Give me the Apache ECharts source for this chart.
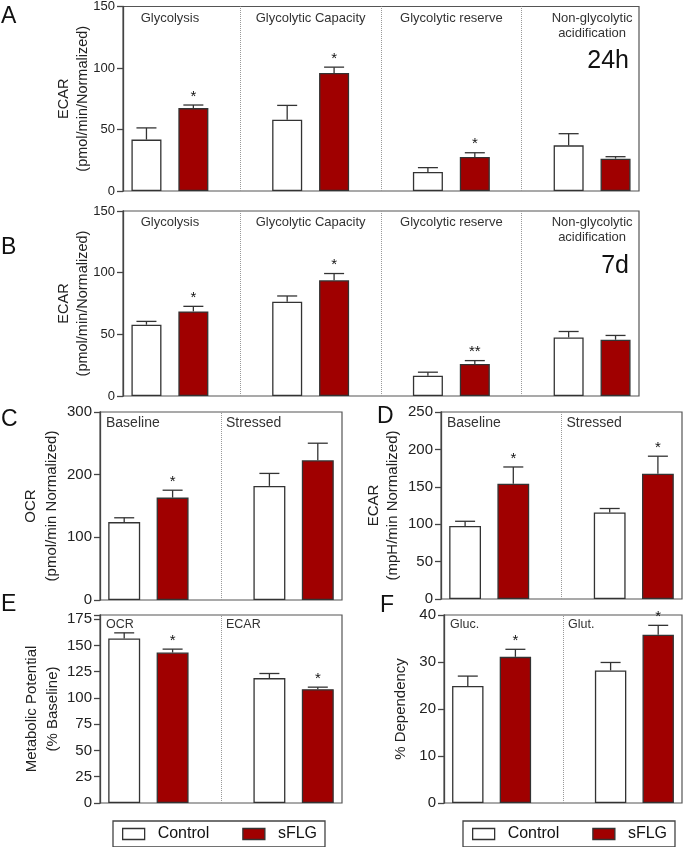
<!DOCTYPE html>
<html>
<head>
<meta charset="utf-8">
<script src="https://cdn.jsdelivr.net/npm/echarts@6/dist/echarts.min.js"></script>
<style>
html, body { margin: 0; padding: 0; background: #fff; }
#main { width: 685px; height: 847px; }
</style>
</head>
<body>
<div id="main"></div>
<script>
// A: 24h
var groupsAB = ['Glycolysis', 'Glycolytic Capacity', 'Glycolytic reserve', 'Non-glycolytic\nacidification'];
var aControl = [41.8, 58.0, 15.4, 37.1];
var aControlErr = [9.5, 11.6, 3.6, 9.5];
var aSflg = [67.4, 95.9, 27.6, 26.3];
var aSflgErr = [2.5, 4.8, 3.5, 1.6];
var aStars = ['*', '*', '*', ''];

// B: 7d
var bControl = [57.8, 76.5, 16.5, 47.5];
var bControlErr = [2.7, 4.6, 2.8, 4.8];
var bSflg = [68.6, 93.8, 26.0, 45.6];
var bSflgErr = [4.1, 5.5, 2.7, 3.5];
var bStars = ['*', '*', '**', ''];

// C: OCR
var groupsCD = ['Baseline', 'Stressed'];
var cControl = [124.3, 182.1];
var cControlErr = [6.9, 19.9];
var cSflg = [163.4, 222.9];
var cSflgErr = [11.8, 27.3];
var cStars = ['*', ''];

// D: ECAR
var dControl = [97.7, 115.6];
var dControlErr = [6.2, 5.4];
var dSflg = [154.1, 167.6];
var dSflgErr = [22.4, 23.3];
var dStars = ['*', '*'];

// E: metabolic potential
var groupsE = ['OCR', 'ECAR'];
var eControl = [156.6, 118.9];
var eControlErr = [5.4, 4.4];
var eSflg = [143.3, 108.4];
var eSflgErr = [3.2, 1.9];
var eStars = ['*', '*'];

// F: dependency
var groupsF = ['Gluc.', 'Glut.'];
var fControl = [24.9, 28.2];
var fControlErr = [2.1, 1.7];
var fSflg = [31.1, 35.8];
var fSflgErr = [1.6, 2.0];
var fStars = ['*', '*'];

var font = '"Liberation Sans", Arial, sans-serif';
var red = '#a00000';
var edge = '#333';

var grids = [], xAxes = [], yAxes = [], series = [];

function addPanel(p) {
    var i = grids.length;
    var n = p.groups.length;
    var slots = [];
    for (var s = 0; s < 3 * n - 1; s++) slots.push(String(s));
    var ctrlData = slots.map(function () { return '-'; });
    var sflgData = slots.map(function () { return '-'; });
    var errData = [], dividers = [], labelData = [];
    for (var g = 0; g < n; g++) {
        ctrlData[3 * g] = p.control[g];
        sflgData[3 * g + 1] = p.sflg[g];
        errData.push([3 * g, p.control[g], p.controlErr[g]]);
        errData.push([3 * g + 1, p.sflg[g], p.sflgErr[g]]);
        labelData.push([3 * g, 0]);
        if (g < n - 1) dividers.push({ xAxis: String(3 * g + 2) });
    }

    grids.push({ left: p.box[0], top: p.box[1], width: p.box[2], height: p.box[3],
        show: true, borderColor: '#555', borderWidth: 1.2 });
    xAxes.push({ gridIndex: i, type: 'category', data: slots, show: false });
    yAxes.push({
        gridIndex: i, type: 'value', min: 0, max: p.max, interval: p.step,
        name: p.name, nameLocation: 'middle', nameGap: p.nameGap, nameMoveOverlap: false,
        nameTextStyle: { fontFamily: font, fontSize: p.nameSize, lineHeight: p.nameLH, color: '#222' },
        axisLine: { show: true, lineStyle: { color: '#444', width: 1.3 } },
        axisTick: { show: true, length: 6, lineStyle: { color: '#444', width: 1.3 } },
        axisLabel: { fontFamily: font, fontSize: p.tickSize, color: '#222', margin: 8,
            formatter: function (v) { return v % p.step === 0 ? v : ''; } },
        splitLine: { show: false }
    });

    series.push({
        name: 'Control', type: 'bar', xAxisIndex: i, yAxisIndex: i,
        data: ctrlData, barWidth: p.barWidth, barGap: '-100%',
        itemStyle: { color: '#fff', borderColor: edge, borderWidth: 1.3 },
        markLine: { silent: true, symbol: ['none', 'none'], label: { show: false },
            lineStyle: { type: 'dotted', color: '#999', width: 1 }, data: dividers }
    });
    series.push({
        name: 'sFLG', type: 'bar', xAxisIndex: i, yAxisIndex: i,
        data: sflgData, barWidth: p.barWidth, barGap: '-100%',
        itemStyle: { color: red, borderColor: edge, borderWidth: 1.3 }
    });
    // error bars + significance marks
    series.push({
        type: 'custom', xAxisIndex: i, yAxisIndex: i, silent: true, data: errData,
        renderItem: function (params, api) {
            var slot = api.value(0);
            var top = api.coord([slot, api.value(1)]);
            var end = api.coord([slot, api.value(1) + api.value(2)]);
            var x = top[0];
            var kids = [
                { type: 'line', shape: { x1: x, y1: top[1], x2: x, y2: end[1] }, style: { stroke: edge, lineWidth: 1.3 } },
                { type: 'line', shape: { x1: x - 10, y1: end[1], x2: x + 10, y2: end[1] }, style: { stroke: edge, lineWidth: 1.3 } }
            ];
            var star = params.dataIndex % 2 ? p.stars[(params.dataIndex - 1) / 2] : '';
            if (star) {
                kids.push({ type: 'text', style: { text: star, x: x, y: end[1] - 1, align: 'center',
                    verticalAlign: 'bottom', fontSize: 15, fontFamily: font, fill: '#111' } });
            }
            return { type: 'group', children: kids };
        }
    });
    // group titles inside the plot
    series.push({
        type: 'custom', xAxisIndex: i, yAxisIndex: i, silent: true, data: labelData,
        renderItem: function (params, api) {
            var g = params.dataIndex;
            var cs = params.coordSys;
            var x, align;
            if (p.labelAlign === 'center') {
                x = (api.coord([3 * g, 0])[0] + api.coord([3 * g + 1, 0])[0]) / 2;
                align = 'center';
            } else {
                x = g === 0 ? cs.x + 6 : api.coord([3 * g - 1, 0])[0] + 5;
                align = 'left';
            }
            return { type: 'text', style: { text: p.groups[g], x: x, y: cs.y + p.labelTop,
                align: align, verticalAlign: 'top', fontSize: p.labelSize, lineHeight: p.labelLH,
                fontFamily: font, fill: '#333' } };
        }
    });
}

addPanel({ box: [123, 6, 516, 185], groups: groupsAB, control: aControl, controlErr: aControlErr,
    sflg: aSflg, sflgErr: aSflgErr, stars: aStars, max: 150, step: 50,
    name: 'ECAR\n(pmol/min/Normalized)', nameGap: 31, nameSize: 14.5, nameLH: 19, tickSize: 13,
    barWidth: '64%', labelAlign: 'center', labelTop: 4, labelSize: 13, labelLH: 15 });
addPanel({ box: [123, 211, 516, 185], groups: groupsAB, control: bControl, controlErr: bControlErr,
    sflg: bSflg, sflgErr: bSflgErr, stars: bStars, max: 150, step: 50,
    name: 'ECAR\n(pmol/min/Normalized)', nameGap: 31, nameSize: 14.5, nameLH: 19, tickSize: 13,
    barWidth: '64%', labelAlign: 'center', labelTop: 4, labelSize: 13, labelLH: 15 });
addPanel({ box: [100, 412, 242, 188], groups: groupsCD, control: cControl, controlErr: cControlErr,
    sflg: cSflg, sflgErr: cSflgErr, stars: cStars, max: 300, step: 100,
    name: 'OCR\n(pmol/min Normalized)', nameGap: 38, nameSize: 15, nameLH: 21, tickSize: 15,
    barWidth: '66%', labelAlign: 'left', labelTop: 4, labelSize: 14, labelLH: 14 });
addPanel({ box: [441, 412, 241, 187], groups: groupsCD, control: dControl, controlErr: dControlErr,
    sflg: dSflg, sflgErr: dSflgErr, stars: dStars, max: 250, step: 50,
    name: 'ECAR\n(mpH/min Normalized)', nameGap: 39, nameSize: 15, nameLH: 19, tickSize: 15,
    barWidth: '66%', labelAlign: 'left', labelTop: 4, labelSize: 14, labelLH: 14 });
addPanel({ box: [100, 615, 242, 188], groups: groupsE, control: eControl, controlErr: eControlErr,
    sflg: eSflg, sflgErr: eSflgErr, stars: eStars, max: 179, step: 25,
    name: 'Metabolic Potential\n(% Baseline)', nameGap: 37, nameSize: 15, nameLH: 21, tickSize: 15,
    barWidth: '66%', labelAlign: 'left', labelTop: 3, labelSize: 12.5, labelLH: 13 });
addPanel({ box: [444, 615, 238, 188], groups: groupsF, control: fControl, controlErr: fControlErr,
    sflg: fSflg, sflgErr: fSflgErr, stars: fStars, max: 40, step: 10,
    name: '% Dependency', nameGap: 34, nameSize: 15, nameLH: 18, tickSize: 15,
    barWidth: '66%', labelAlign: 'left', labelTop: 3, labelSize: 12.5, labelLH: 13 });

var legendItems = [
    { name: 'Control', itemStyle: { color: '#fff', borderColor: edge, borderWidth: 1.3 } },
    { name: 'sFLG', itemStyle: { color: red, borderColor: edge, borderWidth: 1.3 } }
];

function panelText(text, x, y, size, align) {
    return { type: 'text', x: x, y: y, silent: true,
        style: { text: text, fontSize: size, fontFamily: font, fill: '#111',
            align: align || 'left', verticalAlign: 'middle' } };
}

var chart = echarts.init(document.getElementById('main'));
chart.setOption({
    animation: false,
    grid: grids,
    xAxis: xAxes,
    yAxis: yAxes,
    series: series,
    legend: [113, 463].map(function (x) {
        return { left: x, top: 821, icon: 'rect', itemWidth: 22, itemHeight: 11, itemGap: 33,
            selectedMode: false, padding: [5, 8, 5, 9], borderColor: '#444', borderWidth: 1.3,
            textStyle: { fontFamily: font, fontSize: 16, color: '#111', padding: [0, 0, 0, 8] },
            data: legendItems };
    }),
    graphic: [
        panelText('A', 1, 17, 23),
        panelText('B', 1, 248, 23),
        panelText('C', 1, 420, 23),
        panelText('D', 377, 417, 23),
        panelText('E', 1, 605, 23),
        panelText('F', 380, 606, 23),
        panelText('24h', 629, 61, 25, 'right'),
        panelText('7d', 629, 266, 25, 'right')
    ]
});
</script>
</body>
</html>
